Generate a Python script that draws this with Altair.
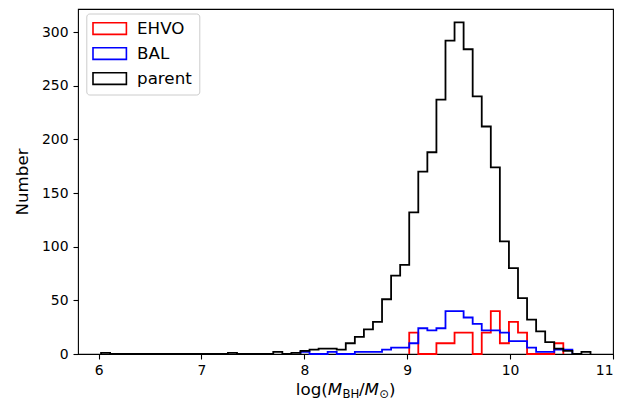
import altair as alt
import pandas as pd

# ---- data ----
BIN_START = 6.024      # left edge of the first histogram bin
BIN_WIDTH = 0.0881     # width of one bin in log(M_BH/M_sun)

parent_first = 0
parent_counts = [1, 0, 0, 0, 0, 0, 0, 0, 0, 0, 0, 0, 0, 0, 1, 0, 0, 0, 0, 2,
                 0, 1, 3, 4, 5, 5, 4, 10, 16, 23, 30, 51, 73, 83, 132, 170,
                 188, 237, 292, 309, 284, 240, 212, 174, 105, 80, 52, 32, 21,
                 11, 5, 3, 0, 2]

bal_first = 22
bal_counts = [2, 0, 0, 2, 0, 0, 2, 2, 2, 4, 6, 6, 10, 24, 22, 24, 40, 40, 34,
              28, 22, 22, 20, 12, 12, 6, 2, 2, 4, 4]

ehvo_first = 34
ehvo_counts = [20, 0, 0, 10, 10, 20, 20, 0, 20, 40, 10, 30, 20, 0, 0, 0, 10]

series_names = ["EHVO", "BAL", "parent"]
series_colors = ["#ff0000", "#0000ff", "#000000"]

x_ticks = [6, 7, 8, 9, 10, 11]
y_ticks = [0, 50, 100, 150, 200, 250, 300]


def step_rows(name, first, counts):
    rows = [dict(series=name, x=BIN_START + first * BIN_WIDTH, y=0, k=0)]
    for j, c in enumerate(counts):
        rows.append(dict(series=name, x=BIN_START + (first + j) * BIN_WIDTH, y=c, k=j + 1))
    rows.append(dict(series=name, x=BIN_START + (first + len(counts)) * BIN_WIDTH,
                     y=0, k=len(counts) + 1))
    return pd.DataFrame(rows)


FONT = "DejaVu Sans"

color_scale = alt.Scale(domain=series_names, range=series_colors)
x_enc = alt.X("x:Q", scale=alt.Scale(domain=[5.8, 11.0], nice=False, zero=False),
              axis=alt.Axis(values=x_ticks, title=None, format="d"))
y_enc = alt.Y("y:Q", scale=alt.Scale(domain=[0, 321.5], nice=False),
              axis=alt.Axis(values=y_ticks, title="Number", format="d"))
legend = alt.Legend(
    title=None, orient="none", legendX=8.3, legendY=4.5,
    symbolType="M-2.57,-0.9H2.57V0.9H-2.57Z", symbolSize=169,
    symbolStrokeWidth=1.6, symbolFillColor="transparent",
    symbolOffset=8.35, labelOffset=19, rowPadding=6.0, padding=6.7,
    labelFont=FONT, labelFontSize=16.7, labelColor="black",
    strokeColor="#cccccc", fillColor="white", cornerRadius=3,
)


def hist_layer(name, first, counts):
    return alt.Chart(step_rows(name, first, counts)).mark_line(
        interpolate="step-after", strokeWidth=1.8
    ).encode(
        x=x_enc, y=y_enc,
        color=alt.Color("series:N", scale=color_scale, legend=legend),
        order=alt.Order("k:Q"),
    )


layers = [
    hist_layer("EHVO", ehvo_first, ehvo_counts),
    hist_layer("BAL", bal_first, bal_counts),
    hist_layer("parent", parent_first, parent_counts),
]

# x-axis title log(M_BH / M_sun) built from pieces (plot-area pixel coordinates)
base_y = 385.5
sub_y = 389
title_parts = [
    ("log(", 217.8, base_y, 16.7, "normal"),
    ("M", 249.8, base_y, 16.7, "italic"),
    ("BH", 264.4, sub_y, 11.7, "normal"),
    ("/", 281.0, base_y, 16.7, "normal"),
    ("M", 286.6, base_y, 16.7, "italic"),
    ("\u2299", 301.2, sub_y, 11.7, "normal"),
    (")", 311.0, base_y, 16.7, "normal"),
]
one = pd.DataFrame({"a": [0]})
for txt, px, py, fs, style in title_parts:
    layers.append(
        alt.Chart(one).mark_text(
            text=txt, align="left", baseline="alphabetic", font=FONT,
            fontSize=fs, fontStyle=style, color="black"
        ).encode(x=alt.value(px), y=alt.value(py))
    )

chart = alt.layer(*layers).properties(
    width=535, height=345,
    autosize=alt.AutoSizeParams(type="none"),
    padding={"left": 70, "top": 1, "right": 10, "bottom": 48},
).configure_view(
    stroke="black", strokeWidth=1.1
).configure_axis(
    grid=False, domain=False,
    labelFont=FONT, labelFontSize=13.9, labelColor="black",
    tickColor="black", tickSize=5, tickWidth=1.1,
    titleFont=FONT, titleFontSize=16.7, titleFontWeight="normal", titleColor="black",
).configure_axisX(
    labelPadding=4
).configure_axisY(
    labelPadding=5, titlePadding=10
)

chart.save("out.html", embed_options={"renderer": "svg", "actions": False})
